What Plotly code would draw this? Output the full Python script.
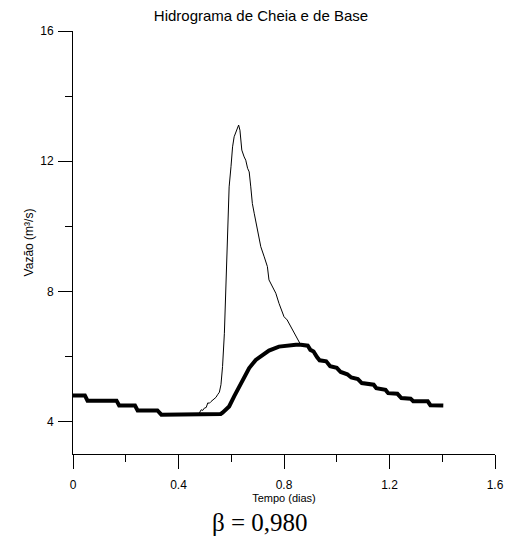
import plotly.graph_objects as go

# Base flow (thick line): time in days, discharge in m3/s
t_base = [0.000, 0.045, 0.055, 0.165, 0.175, 0.235, 0.245, 0.320, 0.335, 0.500, 0.550,
          0.560, 0.567, 0.580, 0.592, 0.611, 0.630, 0.649, 0.668, 0.693, 0.718, 0.743,
          0.781, 0.819, 0.845, 0.864, 0.890, 0.900, 0.912, 0.925, 0.935, 0.960, 0.975,
          1.000, 1.015, 1.040, 1.055, 1.080, 1.095, 1.140, 1.150, 1.185, 1.195, 1.230,
          1.245, 1.280, 1.290, 1.345, 1.355, 1.404]
q_base = [4.80, 4.80, 4.64, 4.64, 4.49, 4.49, 4.34, 4.34, 4.21, 4.21, 4.22,
          4.23, 4.27, 4.35, 4.46, 4.77, 5.07, 5.38, 5.64, 5.89, 6.05, 6.18,
          6.30, 6.35, 6.36, 6.36, 6.33, 6.20, 6.15, 5.98, 5.88, 5.85, 5.70,
          5.65, 5.52, 5.45, 5.35, 5.30, 5.18, 5.13, 5.02, 4.97, 4.87, 4.85,
          4.72, 4.70, 4.62, 4.62, 4.50, 4.49]

# Flood hydrograph (thin line) where it departs from the base flow
t_cheia = [0.470, 0.479, 0.486, 0.492, 0.498, 0.505, 0.511, 0.517, 0.523, 0.530, 0.536,
           0.542, 0.548, 0.555, 0.561, 0.567, 0.574, 0.580, 0.586, 0.592, 0.599, 0.605,
           0.611, 0.618, 0.628, 0.633, 0.640, 0.649, 0.655, 0.662, 0.668, 0.674, 0.680,
           0.687, 0.699, 0.706, 0.712, 0.725, 0.737, 0.743, 0.756, 0.769, 0.781, 0.787,
           0.800, 0.812, 0.825, 0.844, 0.863]
q_cheia = [4.21, 4.26, 4.36, 4.34, 4.41, 4.43, 4.57, 4.56, 4.61, 4.66, 4.72,
           4.74, 4.82, 4.90, 5.13, 5.69, 6.71, 8.25, 9.78, 11.21, 11.83, 12.44,
           12.75, 12.90, 13.11, 12.95, 12.34, 12.13, 12.03, 11.78, 11.67, 11.21, 10.70,
           10.40, 9.88, 9.58, 9.37, 9.06, 8.76, 8.35, 8.14, 7.94, 7.63, 7.48,
           7.22, 7.12, 6.92, 6.61, 6.36]

x_ticks = [0, 0.4, 0.8, 1.2, 1.6]
x_ticklabels = ["0", "0.4", "0.8", "1.2", "1.6"]
x_minor = [0.2, 0.6, 1.0, 1.4]
y_ticks = [4, 8, 12, 16]
y_ticklabels = ["4", "8", "12", "16"]
y_minor = [6, 10, 14]

title_text = "Hidrograma de Cheia e de Base"
x_title = "Tempo (dias)"
y_title = "Vazão (m³/s)"
beta_text = "β = 0,980"

SANS = "Liberation Sans, Arial, sans-serif"
SERIF = "Liberation Serif, Times New Roman, serif"

fig = go.Figure()
fig.add_trace(go.Scatter(x=t_cheia, y=q_cheia, mode="lines", name="Cheia",
                         line=dict(color="black", width=1), showlegend=False))
fig.add_trace(go.Scatter(x=t_base, y=q_base, mode="lines", name="Base",
                         line=dict(color="black", width=4), showlegend=False))

axis_common = dict(showline=True, linecolor="black", linewidth=1, ticks="outside",
                   ticklen=14, tickwidth=1, tickcolor="black", showgrid=False,
                   zeroline=False, tickfont=dict(family=SANS, size=12, color="black"))

fig.update_xaxes(range=[0, 1.6], tickmode="array", tickvals=x_ticks, ticktext=x_ticklabels,
                 minor=dict(tickmode="array", tickvals=x_minor, ticks="outside", ticklen=7,
                            tickcolor="black", showgrid=False),
                 title=dict(text=x_title, font=dict(family=SANS, size=11, color="black"), standoff=0),
                 ticklabelstandoff=6, **axis_common)
fig.update_yaxes(range=[3, 16], tickmode="array", tickvals=y_ticks, ticktext=y_ticklabels,
                 minor=dict(tickmode="array", tickvals=y_minor, ticks="outside", ticklen=7,
                            tickcolor="black", showgrid=False),
                 title=dict(text=y_title, font=dict(family=SANS, size=12, color="black"), standoff=4),
                 ticklabelstandoff=2, **axis_common)

fig.add_annotation(text=beta_text, xref="paper", yref="paper", x=(261 - 73) / 424,
                   y=(454 - 522) / 423, xanchor="center", yanchor="middle", showarrow=False,
                   font=dict(family=SERIF, size=25, color="black"))

fig.update_layout(
    width=516, height=537,
    margin=dict(l=73, r=19, t=31, b=83),
    paper_bgcolor="white", plot_bgcolor="white",
    title=dict(text=title_text, x=261 / 516, xanchor="center", y=1 - 16 / 537, yanchor="middle",
               font=dict(family=SANS, size=15, color="black")),
    font=dict(family=SANS, color="black"),
)

fig.write_html("out.html", config={"displayModeBar": False},
               post_script="document.body.style.margin='0';document.body.style.overflow='hidden';")
